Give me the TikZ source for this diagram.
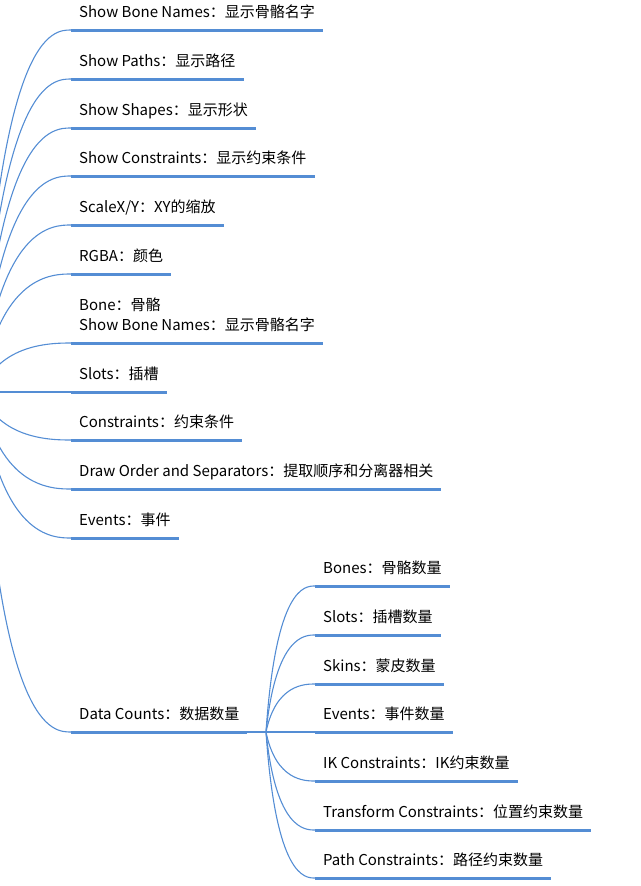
\documentclass[tikz,border=0pt]{standalone}
\usepackage{fontspec}
\newfontfamily\cjk{Noto Sans CJK SC}
\definecolor{branch}{RGB}{84,141,212}
\tikzset{
  topic/.style={anchor=south west, inner xsep=8pt, inner ysep=0pt, text depth=12.5pt,
    font=\cjk\fontsize{15}{20}\selectfont, text=black},
  uline/.style={branch, line width=3pt},
  link/.style={branch, line width=1.1pt},
}

\begin{document}
\begin{tikzpicture}[x=1pt,y=-1pt]
\useasboundingbox (0,0) rectangle (640,886);

% Roots of the branches
\coordinate (root) at (-19,392);

% Left branches
\foreach \y/\n/\t in {30/bonenames/{Show Bone Names：显示骨骼名字},
    79/paths/{Show Paths：显示路径},
    128/shapes/{Show Shapes：显示形状},
    176/showcons/{Show Constraints：显示约束条件},
    225/scale/{ScaleX/Y：XY的缩放},
    274/rgba/{RGBA：颜色},
    392/slots/{Slots：插槽},
    440/cons/{Constraints：约束条件},
    489/draworder/{Draw Order and Separators：提取顺序和分离器相关},
    538/events/{Events：事件}}{
  \node[topic] (\n) at (71,\y) {\t};
  \draw[uline] (\n.south west) -- (\n.south east);
  \draw[link] (root) .. controls (-1,\y) and (53,\y) .. (\n.south west);
}

% Two-line topic
\node[topic, align=left] (bone) at (71,343) {Bone：骨骼\\Show Bone Names：显示骨骼名字};
\draw[uline] (bone.south west) -- (bone.south east);
\draw[link] (root) .. controls (-1,343) and (53,343) .. (bone.south west);

% Data counts
\node[topic] (counts) at (71,732) {Data Counts：数据数量};
\draw[uline] (counts.south west) -- (counts.south east);
\draw[link] (root) .. controls (-1,732) and (53,732) .. (counts.south west);
\coordinate (hub) at (266,732);
\draw[link] (counts.south east) -- (hub);

% Counts sub-branches
\foreach \y/\n/\t in {586/bones/{Bones：骨骼数量},
    635/nslots/{Slots：插槽数量},
    684/skins/{Skins：蒙皮数量},
    732/nevents/{Events：事件数量},
    781/ikcons/{IK Constraints：IK约束数量},
    830/tfcons/{Transform Constraints：位置约束数量},
    878/pathcons/{Path Constraints：路径约束数量}}{
  \node[topic] (\n) at (315,\y) {\t};
  \draw[uline] (\n.south west) -- (\n.south east);
  \draw[link] (hub) .. controls (276,\y) and (305,\y) .. (\n.south west);
}
\end{tikzpicture}
\end{document}
